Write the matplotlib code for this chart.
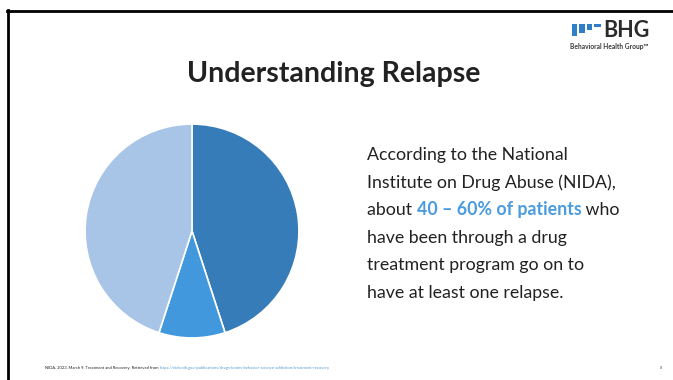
import matplotlib.pyplot as plt
from matplotlib.lines import Line2D
from matplotlib.patches import Rectangle

plt.rcParams['font.family'] = ['Lato', 'DejaVu Sans']

W, H = 673, 380

# pie data
slice_labels = ['Relapse', 'Other', 'No relapse']
slice_values = [45, 10, 45]
slice_colors = ['#357CB8', '#4298DC', '#A8C5E8']

title = 'Understanding Relapse'
body_lines = [
    'According to the National',
    'Institute on Drug Abuse (NIDA),',
    None,
    'have been through a drug',
    'treatment program go on to',
    'have at least one relapse.',
]
highlight = ('about ', '40 – 60% of patients', ' who')
cite_text = 'NIDA. 2023, March 9. Treatment and Recovery. Retrieved from '
cite_link = 'https://nida.nih.gov/publications/drugs-brains-behavior-science-addiction/treatment-recovery'
page_no = '8'


def fx(px):
    return px / W


def fy(py):
    return 1 - py / H


fig = plt.figure(figsize=(W / 100, H / 100), dpi=100)
fig.patch.set_facecolor('white')

# slide frame (top and left rules)
fig.add_artist(Line2D([fx(7), fx(673)], [fy(11), fy(11)], color='black', lw=2.0))
fig.add_artist(Line2D([fx(8), fx(8)], [fy(10), fy(380)], color='black', lw=2.0))

# pie
cx, cy, r = 192, 231, 108
ax = fig.add_axes([fx(cx - r), fy(cy + r), 2 * r / W, 2 * r / H])
ax.pie(slice_values, colors=slice_colors, startangle=90, counterclock=False,
       wedgeprops=dict(edgecolor='white', linewidth=1.2))
ax.set_xlim(-1.01, 1.01)
ax.set_ylim(-1.01, 1.01)
ax.set_aspect('equal')
ax.axis('off')

# title
fig.text(fx(334), fy(82), title, ha='center', va='baseline',
         fontsize=20.5, fontweight='bold', color='#222222')

# body text
x0 = fx(367)
pitch = 27.6
fs = 12.8
for i, line in enumerate(body_lines):
    yb = fy(160 + i * pitch)
    if line is not None:
        fig.text(x0, yb, line, fontsize=fs, color='#222222', va='baseline')

renderer = fig.canvas.get_renderer()
yb = fy(160 + 2 * pitch)
x = x0
for part, bold in zip(highlight, [False, True, False]):
    t = fig.text(x, yb, part, fontsize=fs, va='baseline',
                 color='#4A9BE0' if bold else '#222222',
                 fontweight='bold' if bold else 'normal')
    bb = t.get_window_extent(renderer)
    x += bb.width / W

# logo
blue = '#2E7FC6'
for (l, rr, b) in [(572, 577, 36), (579, 585, 33), (587, 592, 30), (594, 601, 27)]:
    fig.add_artist(Rectangle((fx(l), fy(b)), (rr - l) / W, (b - 24) / H,
                             transform=fig.transFigure, color=blue, lw=0))
fig.text(fx(603), fy(37), 'BHG', fontsize=15.5, fontweight='bold', color='#2B2B2B',
         va='baseline')
fig.text(fx(570), fy(49), 'Behavioral Health Group™', fontsize=4.8,
         fontweight='bold', color='#3A3A3A', va='baseline')

# footnote
fn = 3.0
t = fig.text(fx(45), fy(369), cite_text, fontsize=fn, color='#222222', va='baseline')
bb = t.get_window_extent(renderer)
fig.text(fx(45) + bb.width / W, fy(369), cite_link, fontsize=fn, color='#5B9BD5',
         va='baseline')
fig.text(fx(660), fy(369), page_no, fontsize=fn, color='#555555', va='baseline')

fig.savefig('out.png', dpi=100, facecolor='white')
